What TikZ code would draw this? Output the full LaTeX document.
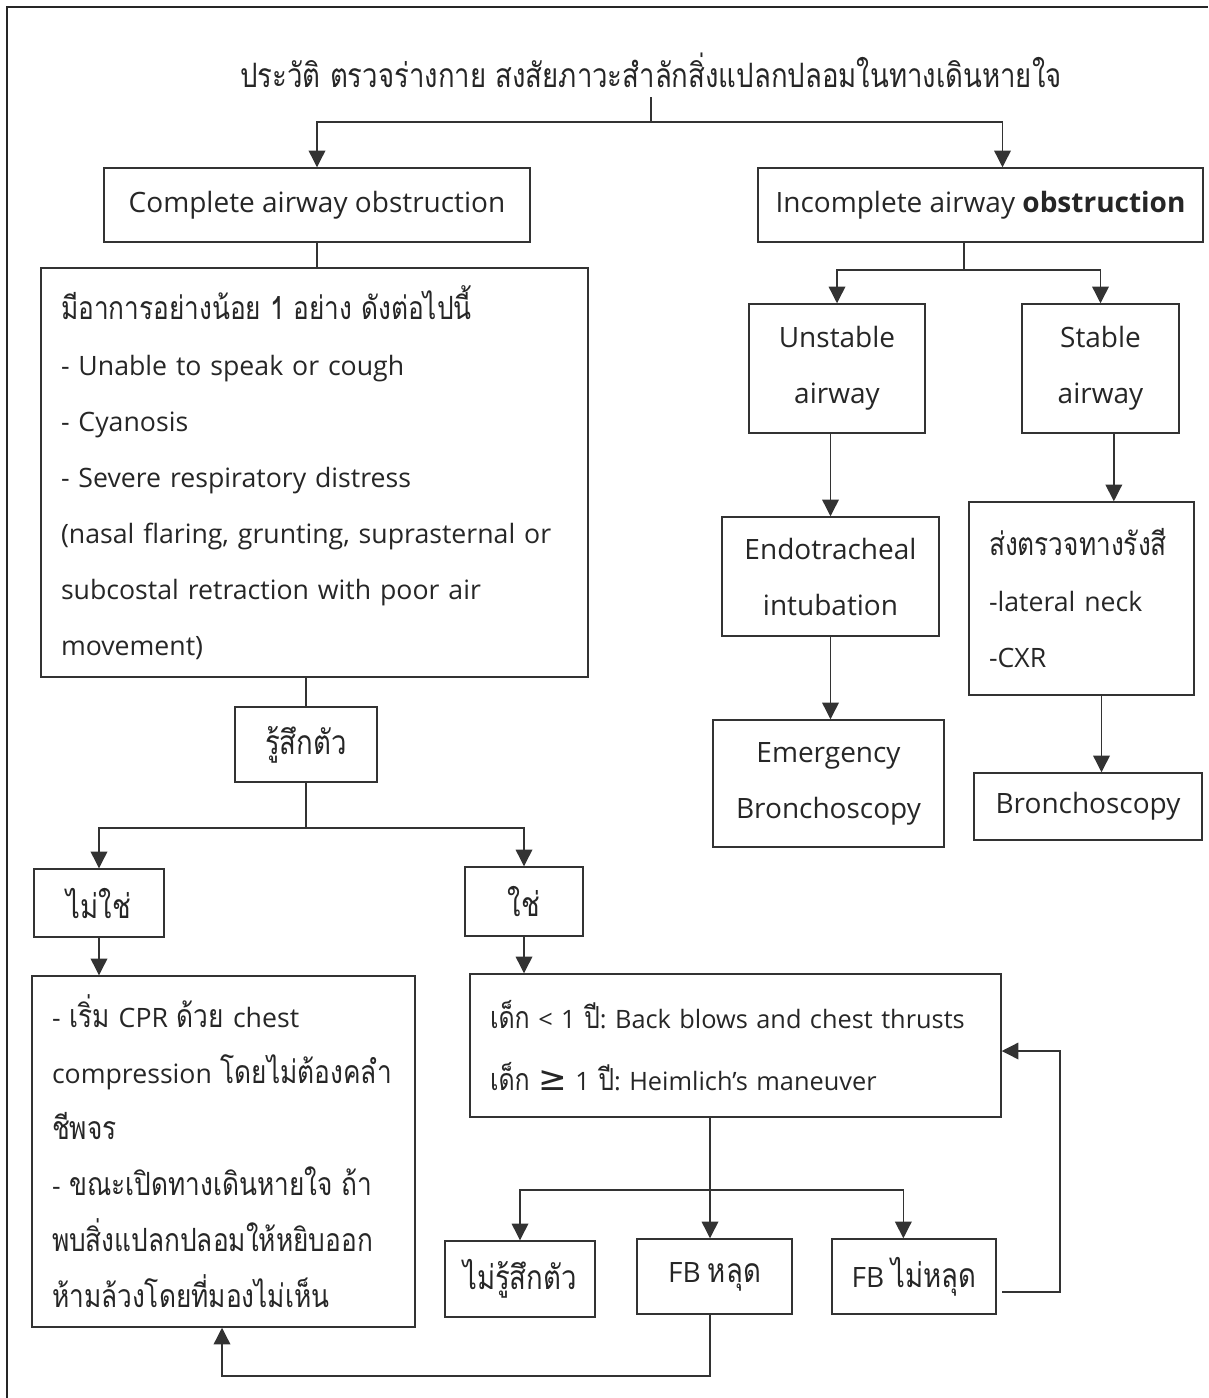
\documentclass[tikz,border=0pt]{standalone}
\usepackage{fontspec}
\setmainfont{Open Sans}
\newfontfamily\thaifont[Script=Thai,Scale=1.2,FakeStretch=0.82]{Loma}
\newfontfamily\symbfont[Scale=1.35]{DejaVu Sans}
\newcommand\tht[1]{{\thaifont #1}}
\usetikzlibrary{arrows.meta}
\frenchspacing

\begin{document}
\begin{tikzpicture}[x=0.75pt, y=-0.75pt, >={Triangle[width=12.5pt,length=12.5pt]},
  box/.style={draw=black!80, line width=1.1pt, inner sep=0pt, align=center, text=black!85, font=\fontsize{21}{42}\selectfont},
  textbox/.style={box, align=left, inner xsep=15pt, font=\fontsize{20}{42}\selectfont},
  line/.style={draw=black!80, line width=1pt}]
\useasboundingbox (0,0) rectangle (1208,1398);
\draw[black!85, line width=2.2pt] (7,1398) -- (7,7) -- (1208,7);

\node[minimum height=40.5pt, text=black!85, font=\fontsize{21}{26}\selectfont] (title) at (651,70) {\tht{ประวัติ ตรวจร่างกาย สงสัยภาวะสำลักสิ่งแปลกปลอมในทางเดินหายใจ}};

% left branch
\node[box, minimum width=319.5pt, minimum height=55.5pt] (complete) at (317,205) {Complete airway obstruction};
\node[textbox, text width=380.25pt, minimum height=306.75pt] (signs) at (314.5,472.5) {\tht{มีอาการอย่างน้อย 1 อย่าง ดังต่อไปนี้}\\- Unable to speak or cough\\- Cyanosis\\- Severe respiratory distress\\(nasal flaring, grunting, suprasternal or\\subcostal retraction with poor air\\movement)};
\node[box, minimum width=106.5pt, minimum height=56.25pt] (conscious) at (306,744.5) {\tht{รู้สึกตัว}};
\node[box, minimum width=97.5pt, minimum height=51pt] (no) at (99,903) {\tht{ไม่ใช่}};
\node[box, minimum width=88.5pt, minimum height=51.75pt] (yes) at (524,901.5) {\tht{ใช่}};
\node[textbox, text width=257.25pt, minimum height=263.25pt] (cpr) at (223.5,1151.5) {- \tht{เริ่ม} CPR \tht{ด้วย} chest\\compression \tht{โดยไม่ต้องคลำ}\\\tht{ชีพจร}\\- \tht{ขณะเปิดทางเดินหายใจ ถ้า}\\\tht{พบสิ่งแปลกปลอมให้หยิบออก}\\\tht{ห้ามล้วงโดยที่มองไม่เห็น}};
\node[textbox, text width=368.25pt, minimum height=107.25pt, font=\fontsize{19}{46}\selectfont] (manoeuvre) at (735.5,1045.5) {\tht{เด็ก} < 1 \tht{ปี}: Back blows and chest thrusts\\\tht{เด็ก} {\symbfont ≥} 1 \tht{ปี}: Heimlich’s maneuver};
\node[box, minimum width=112.5pt, minimum height=57pt] (unconscious) at (520,1279) {\tht{ไม่รู้สึกตัว}};
\node[box, minimum width=116.25pt, minimum height=56.25pt] (fbout) at (714.5,1276.5) {FB \tht{หลุด}};
\node[box, minimum width=123pt, minimum height=56.25pt] (fbin) at (914,1276.5) {FB \tht{ไม่หลุด}};

% right branch
\node[box, minimum width=333.75pt, minimum height=55.5pt] (incomplete) at (980.5,205) {Incomplete airway \textbf{obstruction}};
\node[box, minimum width=132pt, minimum height=96.75pt] (unstable) at (837,368.5) {Unstable\\airway};
\node[box, minimum width=117.75pt, minimum height=96.75pt] (stable) at (1100.5,368.5) {Stable\\airway};
\node[box, minimum width=162.75pt, minimum height=89.25pt] (intubate) at (830.5,576.5) {Endotracheal\\intubation};
\node[box, minimum width=173.25pt, minimum height=95.25pt] (emergbron) at (828.5,783.5) {Emergency\\Bronchoscopy};
\node[textbox, text width=138.75pt, minimum height=144.75pt] (xray) at (1081.5,598.5) {\tht{ส่งตรวจทางรังสี}\\-lateral neck\\-CXR};
\node[box, minimum width=171pt, minimum height=50.25pt] (bronch) at (1088,806.5) {Bronchoscopy};

\coordinate (fork1) at (651,122);
\coordinate (fork2) at (964,270);
\coordinate (fork3) at (306,828);
\coordinate (fork4) at (710,1190);
\coordinate (loopright) at (1060,1051);
\coordinate (loopfoot) at (222,1376);

\draw[line] (title.south) -- (fork1);
\draw[line,->] (fork1) -| (complete.north);
\draw[line,->] (fork1) -| ([xshift=16.5pt]incomplete.north);
\draw[line] (complete.south) -- (complete.south |- signs.north);
\draw[line] (incomplete.south -| fork2) -- (fork2);
\draw[line,->] (fork2) -| (unstable.north);
\draw[line,->] (fork2) -| (stable.north);
\draw[line,->] (intubate.north |- unstable.south) -- (intubate.north);
\draw[line,->] (intubate.south) -- (intubate.south |- emergbron.north);
\draw[line,->] ([xshift=10pt]stable.south) -- ([xshift=10pt]stable.south |- xray.north);
\draw[line,->] ([xshift=15pt]xray.south) -- ([xshift=15pt]xray.south |- bronch.north);
\draw[line] (conscious.north |- signs.south) -- (conscious.north);
\draw[line] (conscious.south) -- (fork3);
\draw[line,->] (fork3) -| (no.north);
\draw[line,->] (fork3) -| (yes.north);
\draw[line,->] (no.south) -- (no.south |- cpr.north);
\draw[line,->] (yes.south) -- (yes.south |- manoeuvre.north);
\draw[line,->] (manoeuvre.south -| fork4) -- (fork4 |- fbout.north);
\draw[line,->] (fork4) -| (unconscious.north);
\draw[line,->] (fork4) -| ([xshift=-8pt]fbin.north);
% FB not out: back to the manoeuvres
\draw[line,->] ([xshift=4pt,yshift=-11.6pt]fbin.east) -| (loopright) -- (loopright -| manoeuvre.east);
% FB out: back to CPR box
\draw[line,->] (fbout.south -| fork4) |- (loopfoot) -- (cpr.south -| loopfoot);
\end{tikzpicture}
\end{document}
